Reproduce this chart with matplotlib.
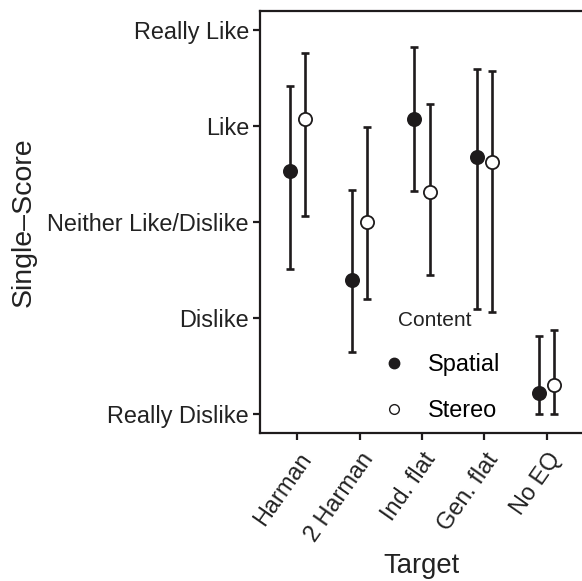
import numpy as np
import matplotlib.pyplot as plt
from matplotlib.lines import Line2D

# Donnees
targets = ["Harman", "2 Harman", "Ind. flat", "Gen. flat", "No EQ"]
score_labels = ["Really Dislike", "Dislike", "Neither Like/Dislike", "Like", "Really Like"]

spatial_mean = [3.53, 2.40, 4.07, 3.68, 1.22]
spatial_low = [2.51, 1.65, 3.32, 2.09, 1.00]
spatial_high = [4.42, 3.33, 4.82, 4.60, 1.81]

stereo_mean = [4.07, 3.00, 3.31, 3.63, 1.30]
stereo_low = [3.06, 2.20, 2.45, 2.06, 1.00]
stereo_high = [4.76, 3.99, 4.23, 4.58, 1.88]

ink = "#1e1b1c"
txt = "#222222"
plt.rcParams['font.family'] = ['Liberation Sans', 'DejaVu Sans']

fig = plt.figure(figsize=(5.82, 5.81), dpi=100)
ax = fig.add_axes([260 / 582, 1 - 433.3 / 581, 324 / 582, (433.3 - 11) / 581])

x = np.arange(1, len(targets) + 1)
dodge = 0.125

def draw(xpos, mean, low, high, face):
    mean = np.array(mean)
    err = np.array([mean - np.array(low), np.array(high) - mean])
    ax.errorbar(xpos, mean, yerr=err, fmt='none', ecolor=ink, elinewidth=1.9,
                capsize=3.0, capthick=1.9, zorder=2)
    ax.plot(xpos, mean, 'o', ms=9.5, mfc=face, mec=ink, mew=1.3, ls='none', zorder=3)

draw(x - dodge, spatial_mean, spatial_low, spatial_high, ink)
draw(x + dodge, stereo_mean, stereo_low, stereo_high, 'white')

ax.set_xlim(0.4, 5.6)
ax.set_ylim(0.8, 5.2)
ax.set_yticks([1, 2, 3, 4, 5])
ax.set_yticklabels(score_labels, fontsize=16.9, color=txt)
ax.set_xticks(x)
ax.set_xticklabels(targets, fontsize=16.9, color=txt, rotation=55,
                   ha='right', va='top', rotation_mode='anchor')
ax.tick_params(axis='both', length=5, width=1.6, color=ink, pad=3)
ax.tick_params(axis='x', pad=6)

for side in ['left', 'bottom', 'top']:
    ax.spines[side].set_linewidth(1.6)
    ax.spines[side].set_color(ink)
ax.spines['right'].set_visible(False)

ax.set_ylabel("Single\u2013Score", fontsize=20.5, color=txt, labelpad=8)
ax.set_xlabel("Target", fontsize=19.8, color=txt, labelpad=5)

# Legende
fig.text(398 / 582, 1 - 321 / 581, "Content", fontsize=15, color=txt,
         ha='left', va='center')
handles = [
    Line2D([], [], marker='o', ls='none', ms=7.5, mfc=ink, mec=ink, mew=1.0),
    Line2D([], [], marker='o', ls='none', ms=7, mfc='white', mec=ink, mew=1.0),
]
leg = fig.legend(handles, ["Spatial", "Stereo"], loc='upper left',
                 bbox_to_anchor=(388 / 582, 1 - 353 / 581), frameon=False,
                 fontsize=16.9, handlelength=0.5, handletextpad=1.2,
                 labelspacing=1.0, borderpad=0, borderaxespad=0)

fig.savefig("out.png", dpi=100)
